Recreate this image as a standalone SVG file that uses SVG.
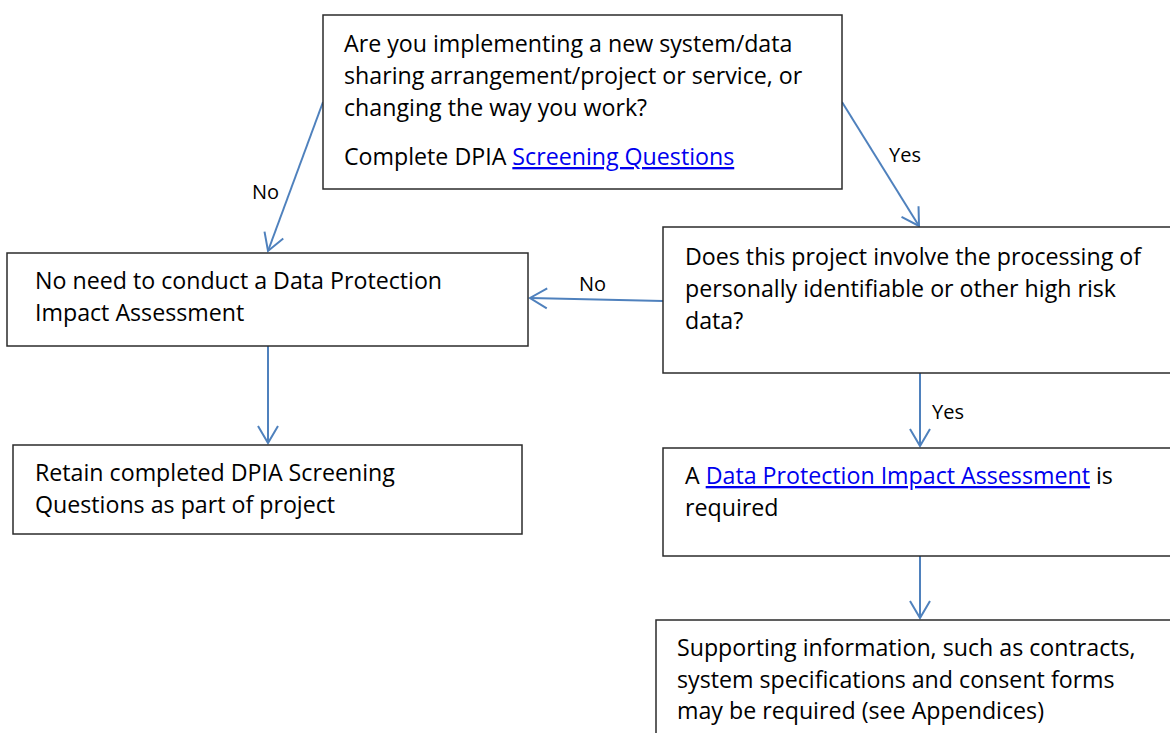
<svg xmlns="http://www.w3.org/2000/svg" width="1170" height="733" viewBox="0 0 1170 733">
<style>
.box{fill:#fff;stroke:#2b2b2b;stroke-width:1.5}
.t{font-family:"Open Sans","Liberation Sans",Arial,sans-serif;font-size:23.2px;fill:#000}
.lbl{font-family:"Open Sans","Liberation Sans",Arial,sans-serif;font-size:20px;fill:#000}
.link{fill:#0000ee;text-decoration:underline}
.conn{stroke:#4f81bd;stroke-width:2;fill:none;marker-end:url(#ah)}
</style>
<defs>
<marker id="ah" markerUnits="userSpaceOnUse" markerWidth="24" markerHeight="24" viewBox="0 0 24 24" refX="20" refY="12" orient="auto">
<path d="M3,2 L20,12 L3,22" fill="none" stroke="#4f81bd" stroke-width="2"/>
</marker>
</defs>
<rect width="1170" height="733" fill="#fff"/>
<g id="connectors">
<line class="conn" x1="323" y1="102" x2="268" y2="251"/>
<line class="conn" x1="842" y1="102" x2="919" y2="226"/>
<line class="conn" x1="663" y1="301" x2="530" y2="298"/>
<line class="conn" x1="268" y1="346" x2="268" y2="443"/>
<line class="conn" x1="920" y1="373" x2="920" y2="446"/>
<line class="conn" x1="920" y1="556" x2="920" y2="618"/>
<text class="lbl" x="252" y="199">No</text>
<text class="lbl" x="889" y="162">Yes</text>
<text class="lbl" x="579" y="291">No</text>
<text class="lbl" x="932" y="419">Yes</text>
</g>
<g id="n-start">
<rect class="box" x="323" y="15" width="519" height="174"/>
<text class="t" x="344" y="52">Are you implementing a new system/data</text>
<text class="t" x="344" y="84">sharing arrangement/project or service, or</text>
<text class="t" x="344" y="116">changing the way you work?</text>
<text class="t" x="344" y="165">Complete DPIA <tspan class="link">Screening Questions</tspan></text>
</g>
<g id="n-noneed">
<rect class="box" x="7" y="253" width="521" height="93"/>
<text class="t" x="35" y="289">No need to conduct a Data Protection</text>
<text class="t" x="35" y="321">Impact Assessment</text>
</g>
<g id="n-retain">
<rect class="box" x="13" y="445" width="509" height="89"/>
<text class="t" x="35" y="481">Retain completed DPIA Screening</text>
<text class="t" x="35" y="513">Questions as part of project</text>
</g>
<g id="n-pii">
<rect class="box" x="663" y="227" width="520" height="146"/>
<text class="t" x="685" y="265">Does this project involve the processing of</text>
<text class="t" x="685" y="297">personally identifiable or other high risk</text>
<text class="t" x="685" y="329">data?</text>
</g>
<g id="n-dpia">
<rect class="box" x="663" y="448" width="520" height="108"/>
<text class="t" x="685" y="484">A <tspan class="link">Data Protection Impact Assessment</tspan> is</text>
<text class="t" x="685" y="516">required</text>
</g>
<g id="n-support">
<rect class="box" x="656" y="620" width="527" height="130"/>
<text class="t" x="677" y="656">Supporting information, such as contracts,</text>
<text class="t" x="677" y="688">system specifications and consent forms</text>
<text class="t" x="677" y="719">may be required (see Appendices)</text>
</g>
</svg>
